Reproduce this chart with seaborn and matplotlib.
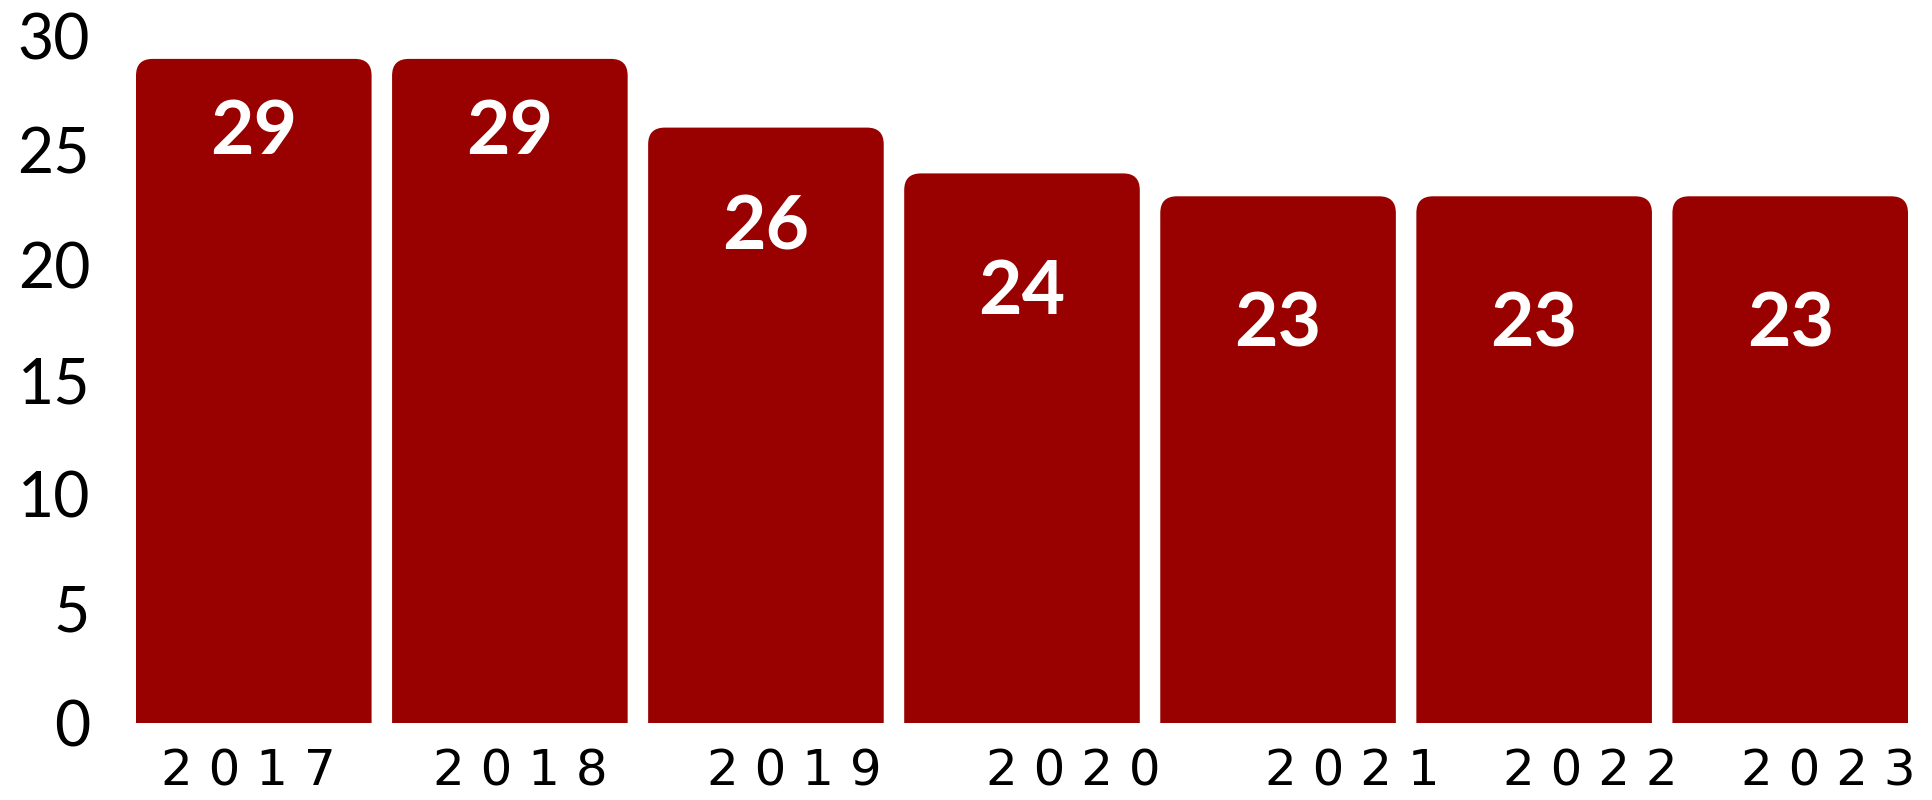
import numpy as np
import pandas as pd
import matplotlib
matplotlib.use("Agg")
import matplotlib.pyplot as plt
from matplotlib.patches import FancyBboxPatch
import seaborn as sns

# data
years = ["2017", "2018", "2019", "2020", "2021", "2022", "2023"]
values = [29, 29, 26, 24, 23, 23, 23]
y_ticks = [0, 5, 10, 15, 20, 25, 30]
# the year labels drift to the right of their bars in the original
label_shift = [-0.02, 0.04, 0.11, 0.20, 0.29, 0.22, 0.15]

bar_color = "#990000"

df = pd.DataFrame({"year": years, "value": values})

sns.set_theme(style="white")
plt.rcParams["font.family"] = ["Lato", "DejaVu Sans"]

fig = plt.figure(figsize=(19.32, 8), dpi=100)
ax = fig.add_axes([136 / 1932, 77 / 800, 1772 / 1932, 687 / 800])

sns.barplot(data=df, x="year", y="value", color=bar_color, saturation=1,
            width=0.92, ax=ax)

ax.set_xlim(-0.46, len(years) - 0.54)
ax.set_ylim(0, 30)
sns.despine(ax=ax, left=True, bottom=True)

# swap the square bars for bars with rounded top corners
fig.canvas.draw()
px_x = ax.transData.transform((1, 0))[0] - ax.transData.transform((0, 0))[0]
px_y = ax.transData.transform((0, 1))[1] - ax.transData.transform((0, 0))[1]
aspect = px_x / px_y
for p in list(ax.patches):
    x, w, h = p.get_x(), p.get_width(), p.get_height()
    p.set_visible(False)
    rb = FancyBboxPatch((x, -2), w, h + 2,
                        boxstyle="round,pad=0,rounding_size=0.065",
                        mutation_aspect=aspect, fc=bar_color, ec="none",
                        clip_on=True)
    ax.add_patch(rb)

# value labels inside bars (they sit lower on the shorter bars)
for i, v in enumerate(values):
    ax.text(i, 1.4 * v - 14.8, str(v), ha="center", va="center",
            color="white", fontsize=54, fontweight="bold")

ax.set_yticks(y_ticks)
ax.set_yticklabels([str(t) for t in y_ticks], fontsize=45, color="black")
ax.tick_params(axis="y", length=0, pad=33)

ax.set_xticks(np.arange(len(years)) + np.array(label_shift))
ax.set_xticklabels([" ".join(y) for y in years], fontsize=36,
                   family="DejaVu Sans", color="black")
ax.tick_params(axis="x", length=0, pad=18)
ax.set_xlabel("")
ax.set_ylabel("")

fig.savefig("out.png", dpi=100)
